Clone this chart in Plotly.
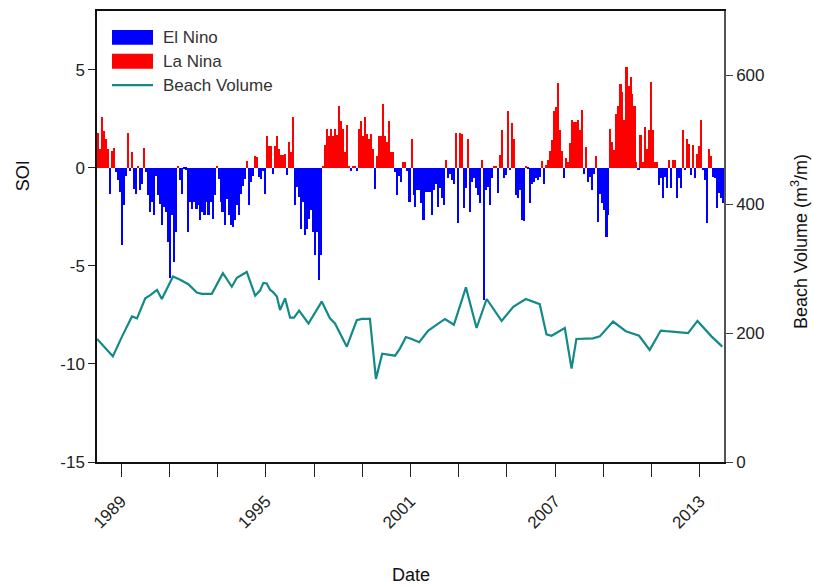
import numpy as np
import pandas as pd
import plotly.graph_objects as go

# ---------------- data ----------------
# Monthly SOI, Jan 1988 - Dec 2013 (one row per year)
soi = [
    1.78, 0.96, 2.57, 1.90, 1.47, 0.96, -1.35, 0.88, 1.00, -0.22, -0.64, -1.23,     # 1988
    -3.94, -1.90, -0.40, 1.78, -0.14, 0.80, -1.07, -1.32, 0.08, -1.15, -0.81, 1.00,  # 1989
    -0.22, -1.40, -2.25, -1.74, -2.42, -0.39, -1.40, -1.83, -2.93, -2.00, -2.25, -3.77,  # 1990
    -5.63, -2.42, -4.79, -3.27, 0.08, -0.64, -1.32, -0.05, -0.10, -3.27, -1.74, -2.08,  # 1991
    -1.74, -2.08, -1.91, -2.67, -2.25, -2.42, -1.74, -2.42, -1.74, -2.59, -1.40, 0.08,  # 1992
    -0.56, -1.74, -2.25, -2.93, -1.57, -2.42, -2.93, -3.01, -2.67, -1.91, -2.42, -1.32,  # 1993
    -0.90, -0.56, 0.37, -1.91, -0.73, -0.39, 0.63, 0.54, -0.47, -0.56, -0.14, -1.35,  # 1994
    1.64, 1.10, 1.10, -0.30, 1.10, 1.61, 0.96, 0.68, 0.68, 0.71, -0.36, 1.30,         # 1995
    0.80, 2.57, -1.91, -0.98, -1.49, -3.10, -1.74, -3.43, -3.10, -2.59, -2.17, -3.27,  # 1996
    -4.45, -3.27, -5.72, -4.45, 0.08, 1.17, 1.98, 1.64, 1.98, 1.64, 1.98, 1.68,       # 1997
    3.16, 2.40, 1.98, 0.80, 2.18, 0.08, -0.14, 0.08, 0.05, -0.14, 1.98, 2.40,         # 1998
    1.64, 2.57, 1.73, 1.47, 1.73, 0.96, -1.07, 0.63, 1.64, 1.64, 3.25, 1.64,          # 1999
    1.30, 2.40, 0.80, 0.80, -0.22, -1.40, -0.39, -0.73, 0.29, 0.29, -0.14, -1.74,     # 2000
    1.45, -1.39, -1.98, -1.13, -1.13, -1.81, -2.66, -1.22, -1.22, -1.22, -2.40, -1.13,  # 2001
    -0.80, -1.98, -1.05, -1.56, -1.90, 0.39, -0.54, -0.29, -0.63, -0.80, 1.79, -2.83,  # 2002
    1.79, 1.74, -2.06, -1.05, 1.45, -2.23, -0.71, -0.54, -1.05, -1.39, -1.81, 0.39,   # 2003
    -6.72, -1.13, -0.96, -1.90, -0.54, 0.10, 0.10, -1.30, 0.68, 1.91, -0.54, -0.37,   # 2004
    2.88, -0.12, 2.28, 1.45, -1.39, -1.56, -1.13, -2.66, -2.71, 0.10, -0.03, -1.81,   # 2005
    -0.80, -0.71, -0.54, -0.63, -0.46, 0.34, -0.80, 0.14, 0.39, 0.85, 1.40, 2.88,     # 2006
    3.10, 4.33, 1.91, 0.85, -0.54, 0.51, 0.30, 1.29, 2.42, 2.33, 2.33, 2.42,          # 2007
    1.91, 2.93, -0.29, 1.07, -0.71, -0.46, -1.13, -0.29, 0.61, -2.74, -1.35, -1.81,   # 2008
    -2.15, -3.50, -2.40, 1.96, 1.32, 0.90, 2.76, 3.18, 4.28, 3.86, 2.42, 5.13,        # 2009
    4.20, 4.62, 3.77, 3.18, 0.30, -0.12, 1.66, 0.30, 2.08, 0.98, 1.91, 4.37,          # 2010
    1.91, 0.30, 0.30, -0.88, -0.54, -1.56, -0.46, -1.05, 0.39, -1.05, 0.39, 0.39,     # 2011
    -1.56, -0.54, -1.05, 1.91, -0.12, 1.45, 1.24, -0.37, 1.15, -0.54, 0.73, 1.12,     # 2012
    2.42, -0.12, -0.63, -2.83, 0.98, 0.61, -0.46, -0.54, -2.03, -1.30, -1.56, -1.81,  # 2013
]
soi_start = "1988-01-01"

# Beach volume survey dates and volumes (m^3/m)
survey_dates = [
    "1988-01-01", "1988-08-28", "1989-01-15", "1989-06-14", "1989-08-29", "1990-01-01",
    "1990-03-18", "1990-06-28", "1990-09-09", "1991-02-25", "1991-06-14", "1991-10-16",
    "1992-02-20", "1992-05-08", "1992-10-05", "1993-03-22", "1993-08-04", "1993-10-20",
    "1994-03-18", "1994-07-24", "1994-10-05", "1994-11-25", "1995-01-15", "1995-03-08",
    "1995-04-17", "1995-06-18", "1995-08-04", "1995-10-20", "1996-01-04", "1996-03-03",
    "1996-05-19", "1996-10-08", "1997-04-27", "1997-08-29", "1997-11-14", "1998-05-12",
    "1998-10-09", "1998-12-24", "1999-04-27", "1999-07-27", "1999-10-30", "2000-05-12",
    "2000-07-24", "2000-10-23", "2001-01-19", "2001-05-12", "2001-09-27", "2002-06-06",
    "2002-10-20", "2003-04-20", "2003-09-28", "2004-02-28", "2004-10-12", "2005-04-06",
    "2005-10-12", "2006-05-12", "2006-08-22", "2006-11-07", "2007-05-27", "2007-09-06",
    "2007-11-18", "2008-07-27", "2008-11-07", "2009-05-27", "2009-12-06", "2010-06-25",
    "2010-12-03", "2011-05-19", "2011-08-11", "2012-07-06", "2012-11-25", "2013-06-25",
    "2013-12-06",
]
beach_volume = [
    191, 164, 195, 226, 223, 254,
    259, 267, 253, 288, 283, 276,
    263, 261, 261, 293, 272, 286,
    295, 258, 266, 278, 277, 267,
    264, 257, 236, 254, 224, 224,
    235, 215, 249, 223, 215, 179,
    220, 222, 222, 129, 168, 165,
    176, 194, 191, 186, 204, 222,
    213, 271, 208, 253, 219, 241,
    253, 245, 198, 196, 208, 145,
    191, 192, 195, 218, 203, 196,
    174, 204, 203, 200, 219, 195,
    179,
]

# axis tick values and labels
soi_ticks = [-15, -10, -5, 0, 5]
soi_tick_labels = ["-15", "-10", "-5", "0", "5"]
volume_ticks = [0, 200, 400, 600]
labelled_years = [1989, 1995, 2001, 2007, 2013]

# ---------------- drawing ----------------
FONT = "Liberation Sans, Arial, sans-serif"
TXT = "#222222"
BLUE = "#0000ff"
RED = "#ff0000"
TEAL = "#138a88"

W, H = 813, 586
L, R, T, B = 97, 89, 9, 124
pw, ph = W - L - R, H - T - B


def px(x):
    return (x - L) / pw


def py(y):
    return (H - B - y) / ph


soi_arr = np.array(soi, dtype=float)
months = pd.date_range(soi_start, periods=len(soi_arr), freq="MS")
centers = months + pd.Timedelta(days=15)
bar_w = 31 * 24 * 3600 * 1000

la_nina = np.where(soi_arr > 0, soi_arr, np.nan)
el_nino = np.where(soi_arr < 0, soi_arr, np.nan)

fig = go.Figure()
fig.add_trace(go.Bar(x=centers, y=el_nino, width=bar_w, name="El Nino",
                     marker=dict(color=BLUE, line=dict(width=0)), showlegend=False))
fig.add_trace(go.Bar(x=centers, y=la_nina, width=bar_w, name="La Nina",
                     marker=dict(color=RED, line=dict(width=0)), showlegend=False))
fig.add_trace(go.Scatter(x=pd.to_datetime(survey_dates), y=beach_volume, yaxis="y2",
                         mode="lines", name="Beach Volume",
                         line=dict(color=TEAL, width=2.2), showlegend=False))

fig.update_layout(
    width=W, height=H,
    margin=dict(l=L, r=R, t=T, b=B),
    paper_bgcolor="white", plot_bgcolor="white",
    barmode="overlay", bargap=0,
    font=dict(family=FONT, size=17, color=TXT),
    xaxis=dict(
        type="date", range=["1988-01-01", "2014-01-01"],
        tickvals=[f"{y}-01-01" for y in labelled_years],
        ticktext=[str(y) for y in labelled_years], tickangle=-45,
        ticks="outside", ticklen=13, tickwidth=1.3, tickcolor="#222",
        ticklabelstandoff=8,
        minor=dict(dtick="M24", tick0="1989-01-01", ticks="outside", ticklen=13,
                   tickwidth=1.3, tickcolor="#222", showgrid=False),
        showline=True, linecolor="#111", linewidth=1.5, mirror=True,
        showgrid=False, zeroline=False,
        tickfont=dict(size=17, color=TXT),
    ),
    yaxis=dict(
        range=[-15, 8], tickvals=soi_ticks, ticktext=soi_tick_labels,
        ticks="outside", ticklen=7, tickwidth=1.3, tickcolor="#222",
        showline=True, linecolor="#111", linewidth=1.5,
        showgrid=False, zeroline=False,
        tickfont=dict(size=17, color=TXT),
    ),
    yaxis2=dict(
        overlaying="y", side="right", range=[0, 700], tickvals=volume_ticks,
        ticks="outside", ticklen=7, tickwidth=1.3, tickcolor="#444",
        showline=True, linecolor="#555", linewidth=1.5,
        showgrid=False, zeroline=False,
        tickfont=dict(size=17, color=TXT),
    ),
)

# legend
fig.add_shape(type="rect", xref="paper", yref="paper",
              x0=px(112), x1=px(153), y0=py(43), y1=py(28),
              fillcolor=BLUE, line=dict(width=0))
fig.add_shape(type="rect", xref="paper", yref="paper",
              x0=px(112), x1=px(153), y0=py(67), y1=py(52),
              fillcolor=RED, line=dict(width=0))
fig.add_shape(type="line", xref="paper", yref="paper",
              x0=px(112), x1=px(153), y0=py(83.5), y1=py(83.5),
              line=dict(color=TEAL, width=2.2))
for label, yy in [("El Nino", 35.5), ("La Nina", 59.5), ("Beach Volume", 83.5)]:
    fig.add_annotation(xref="paper", yref="paper", x=px(161), y=py(yy),
                       text=label, showarrow=False, xanchor="left", yanchor="middle",
                       font=dict(size=17, color="#333"))

# axis titles
fig.add_annotation(xref="paper", yref="paper", x=px(23), y=py(175), text="SOI",
                   textangle=-90, showarrow=False, xanchor="center", yanchor="middle",
                   font=dict(size=18, color="#111"))
fig.add_annotation(xref="paper", yref="paper", x=px(800), y=py(240),
                   text="Beach Volume (m<sup>3</sup>/m)",
                   textangle=-90, showarrow=False, xanchor="center", yanchor="middle",
                   font=dict(size=18, color="#111"))
fig.add_annotation(xref="paper", yref="paper", x=px(411), y=py(575), text="Date",
                   showarrow=False, xanchor="center", yanchor="middle",
                   font=dict(size=18, color="#111"))

fig.write_html("out.html")
